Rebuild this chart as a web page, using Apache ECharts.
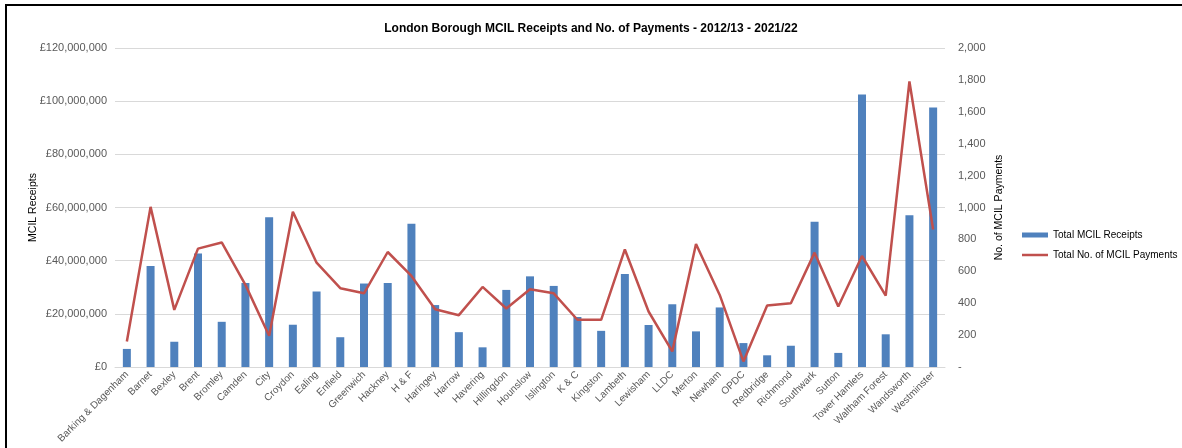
<!DOCTYPE html>
<html>
<head>
<meta charset="utf-8">
<script src="https://cdn.jsdelivr.net/npm/echarts@6/dist/echarts.min.js"></script>
<style>
  html, body { margin: 0; padding: 0; background: #fff; }
  #chart { width: 1182px; height: 448px; }
</style>
</head>
<body>
<div id="chart"></div>
<script>
// 行政区名称
const boroughs = ['Barking & Dagenham', 'Barnet', 'Bexley', 'Brent', 'Bromley', 'Camden', 'City', 'Croydon',
    'Ealing', 'Enfield', 'Greenwich', 'Hackney', 'H & F', 'Haringey', 'Harrow', 'Havering', 'Hillingdon',
    'Hounslow', 'Islington', 'K & C', 'Kingston', 'Lambeth', 'Lewisham', 'LLDC', 'Merton', 'Newham', 'OPDC',
    'Redbridge', 'Richmond', 'Southwark', 'Sutton', 'Tower Hamlets', 'Waltham Forest', 'Wandsworth', 'Westminster'];

// MCIL 收入（英镑）
const receipts = [6800000, 38000000, 9500000, 42700000, 17000000, 31600000, 56300000, 15900000,
    28400000, 11200000, 31400000, 31600000, 53900000, 23300000, 13100000, 7400000, 29000000,
    34100000, 30500000, 18800000, 13600000, 35000000, 15800000, 23600000, 13400000, 22400000, 9000000,
    4400000, 8000000, 54600000, 5300000, 102500000, 12300000, 57100000, 97600000];

// MCIL 付款笔数
const payments = [160, 1004, 358, 742, 781, 515, 196, 973,
    654, 494, 462, 721, 571, 362, 325, 502, 367,
    487, 462, 296, 296, 737, 348, 98, 771, 452, 35,
    385, 400, 717, 379, 696, 448, 1790, 862];

const gray = '#595959';
const font = 'Liberation Sans, Arial, sans-serif';

const chart = echarts.init(document.getElementById('chart'));

chart.setOption({
    animation: false,
    backgroundColor: '#fff',
    title: {
        text: 'London Borough MCIL Receipts and No. of Payments - 2012/13 - 2021/22',
        left: 'center',
        top: 18,
        textStyle: { fontFamily: font, fontSize: 12, fontWeight: 'bold', color: '#000' }
    },
    graphic: [{
        // 外框（只露出左边和上边）
        type: 'rect',
        shape: { x: 6, y: 5, width: 1200, height: 460 },
        style: { fill: 'none', stroke: '#000', lineWidth: 2 },
        silent: true
    }],
    legend: {
        orient: 'vertical',
        left: 1022,
        top: 230,
        padding: 0,
        itemWidth: 26,
        itemHeight: 5,
        itemGap: 10,
        textStyle: { fontFamily: font, fontSize: 10, color: '#000' },
        data: [
            { name: 'Total MCIL Receipts', icon: 'rect' },
            { name: 'Total No. of MCIL Payments', icon: 'path://M0,0H26V2.5H0Z' }
        ]
    },
    grid: { left: 115, right: 237, top: 48, bottom: 81 },
    xAxis: {
        type: 'category',
        data: boroughs,
        axisLine: { lineStyle: { color: '#d9d9d9' } },
        axisTick: { show: false },
        axisLabel: { rotate: 45, interval: 0, color: gray, fontFamily: font, fontSize: 10, margin: 6 }
    },
    yAxis: [{
        type: 'value',
        min: 0,
        max: 120000000,
        interval: 20000000,
        name: 'MCIL Receipts',
        nameLocation: 'middle',
        nameGap: 76,
        nameMoveOverlap: false,
        nameTextStyle: { color: '#000', fontFamily: font, fontSize: 10.5 },
        axisLabel: {
            color: gray, fontFamily: font, fontSize: 11, margin: 8,
            formatter: v => '£' + v.toLocaleString('en-GB')
        },
        splitLine: { lineStyle: { color: '#d9d9d9', width: 1 } }
    }, {
        type: 'value',
        min: 0,
        max: 2000,
        interval: 200,
        name: 'No. of MCIL Payments',
        nameLocation: 'middle',
        nameGap: 49,
        nameRotate: 90,
        nameMoveOverlap: false,
        nameTextStyle: { color: '#000', fontFamily: font, fontSize: 10.5 },
        axisLabel: {
            color: gray, fontFamily: font, fontSize: 11, margin: 13,
            formatter: v => v === 0 ? '-' : v.toLocaleString('en-GB')
        },
        splitLine: { show: false }
    }],
    series: [{
        name: 'Total MCIL Receipts',
        type: 'bar',
        data: receipts,
        barWidth: 8,
        itemStyle: { color: '#4f81bd' }
    }, {
        name: 'Total No. of MCIL Payments',
        type: 'line',
        yAxisIndex: 1,
        data: payments,
        symbol: 'none',
        lineStyle: { color: '#c0504d', width: 2.5 },
        itemStyle: { color: '#c0504d' }
    }]
});
</script>
</body>
</html>
